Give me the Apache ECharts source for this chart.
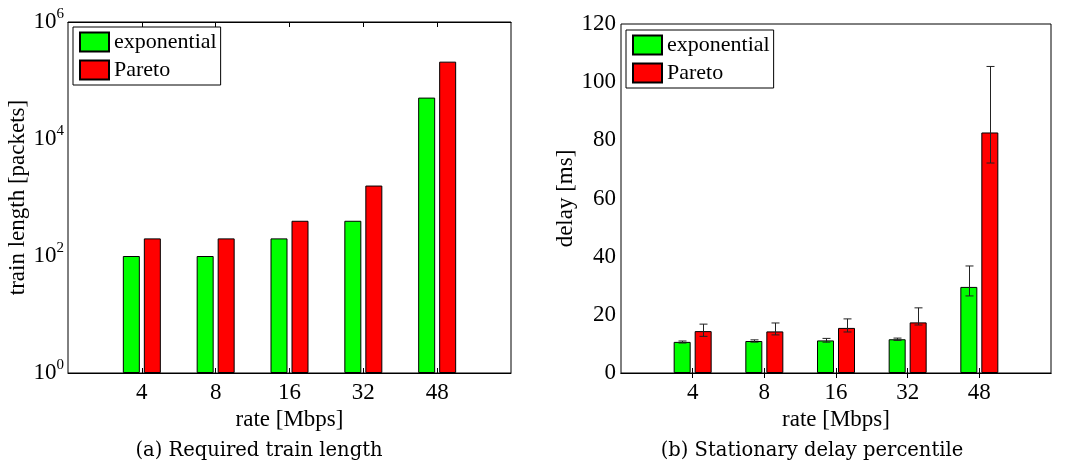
<!DOCTYPE html>
<html>
<head>
<meta charset="utf-8">
<script src="https://cdn.jsdelivr.net/npm/echarts@6/dist/echarts.min.js"></script>
<style>
  html, body { margin: 0; padding: 0; background: #fff; }
  #chart { width: 1071px; height: 465px; }
</style>
</head>
<body>
<div id="chart"></div>
<script>
// rate categories (Mbps)
const rates = ['4', '8', '16', '32', '48']

// (a) required train length [packets]
const expLength = [100, 100, 200, 400, 51000]
const paretoLength = [200, 200, 400, 1600, 210000]

// (b) stationary delay percentile [ms], with error bars
const expDelay = [10.7, 11.0, 11.2, 11.6, 29.6]
const expDelayLow = [10.3, 10.6, 10.6, 11.2, 26.5]
const expDelayHigh = [11.0, 11.4, 11.9, 12.0, 36.8]
const paretoDelay = [14.4, 14.3, 15.5, 17.4, 82.7]
const paretoDelayLow = [12.6, 13.1, 14.1, 16.5, 72.2]
const paretoDelayHigh = [16.8, 17.2, 18.6, 22.4, 105.4]

const delayMax = 120
const delayStep = 20

const FONT = 'Liberation Serif'
const GREEN = '#00ff00'
const RED = '#ff0000'
const BAR_W = 17
const BAR_GAP = 4
const ERR_OFF = (BAR_W + BAR_GAP) / 2

// xlim is [0, 6] with the rates at 1..5
const xCats = ['', ...rates, '']
const pairs = (vals) => vals.map((v, i) => [i + 1, v])
const errPairs = (lo, hi) => lo.map((v, i) => [i + 1, v, hi[i]])

const chart = echarts.init(document.getElementById('chart'))

const axisLine = { lineStyle: { color: '#000', width: 1 } }
const tickOnRates = (i) => i > 0 && i < xCats.length - 1

const xAxisFor = (gridIndex, top) => ({
  gridIndex,
  type: 'category',
  data: xCats,
  boundaryGap: false,
  position: top ? 'top' : 'bottom',
  axisLine,
  axisTick: { inside: true, length: 5, interval: tickOnRates, lineStyle: { color: '#000' } },
  axisLabel: top ? { show: false } : { color: '#000', fontFamily: FONT, fontSize: 23, margin: 8, interval: 0 },
  splitLine: { show: false },
  name: top ? '' : 'rate [Mbps]',
  nameLocation: 'middle',
  nameGap: 34,
  nameTextStyle: { color: '#000', fontFamily: FONT, fontSize: 23 }
})

const errorBars = (xi, yi, lo, hi, off) => ({
  type: 'custom',
  xAxisIndex: xi,
  yAxisIndex: yi,
  z: 5,
  silent: true,
  encode: { x: 0, y: [1, 2] },
  data: errPairs(lo, hi),
  renderItem: (params, api) => {
    const a = api.coord([api.value(0), api.value(1)])
    const b = api.coord([api.value(0), api.value(2)])
    const x = Math.round(a[0] + off) + 0.5
    const style = { stroke: '#222', lineWidth: 1 }
    return {
      type: 'group',
      children: [
        { type: 'line', shape: { x1: x, y1: a[1], x2: x, y2: b[1] }, style },
        { type: 'line', shape: { x1: x - 4, y1: a[1], x2: x + 4, y2: a[1] }, style },
        { type: 'line', shape: { x1: x - 4, y1: b[1], x2: x + 4, y2: b[1] }, style }
      ]
    }
  }
})

const barSeries = (name, xi, yi, vals, color) => ({
  name,
  type: 'bar',
  xAxisIndex: xi,
  yAxisIndex: yi,
  barWidth: BAR_W,
  barGap: (BAR_GAP / BAR_W * 100) + '%',
  itemStyle: { color, borderColor: '#000', borderWidth: 1 },
  data: pairs(vals)
})

const legendFor = (left, top) => ({
  left, top,
  orient: 'vertical',
  data: ['exponential', 'Pareto'],
  icon: 'rect',
  itemWidth: 29,
  itemHeight: 19,
  itemGap: 6,
  itemTextGap: 3,
  padding: [4, 4, 4, 6],
  borderColor: '#000',
  borderWidth: 1,
  backgroundColor: '#fff',
  textStyle: { color: '#000', fontFamily: FONT, fontSize: 22 }
})

const captionStyle = { textAlign: 'center', textVerticalAlign: 'middle', fill: '#000', font: '19.5px "DejaVu Serif"' }

const option = {
  animation: false,
  textStyle: { fontFamily: FONT },
  grid: [
    { left: 68, top: 22, width: 443, height: 351, show: true, borderColor: '#000', borderWidth: 1 },
    { left: 621, top: 24, width: 430, height: 349, show: true, borderColor: '#000', borderWidth: 1 }
  ],
  legend: [legendFor(73, 27), legendFor(626, 30)],
  xAxis: [xAxisFor(0, false), xAxisFor(0, true), xAxisFor(1, false), xAxisFor(1, true)],
  yAxis: [
    {
      gridIndex: 0, type: 'log', logBase: 10, min: 1, max: 1e6, interval: 2, splitNumber: 3,
      axisLine, splitLine: { show: false }, minorTick: { show: false },
      axisTick: { inside: true, length: 5, lineStyle: { color: '#000' } },
      axisLabel: {
        margin: 4,
        formatter: (v) => '{b|10}{e|' + Math.round(Math.log10(v)) + '}',
        rich: {
          b: { color: '#000', fontFamily: FONT, fontSize: 23 },
          e: { color: '#000', fontFamily: FONT, fontSize: 15, padding: [0, 0, 16, 0] }
        }
      },
      name: 'train length [packets]', nameLocation: 'middle', nameGap: 37,
      nameTextStyle: { color: '#000', fontFamily: FONT, fontSize: 23 }
    },
    {
      gridIndex: 0, type: 'log', logBase: 10, min: 1, max: 1e6, interval: 2, splitNumber: 3, position: 'right',
      axisLine, splitLine: { show: false }, minorTick: { show: false },
      axisTick: { inside: true, length: 5, lineStyle: { color: '#000' } },
      axisLabel: { show: false }
    },
    {
      gridIndex: 1, type: 'value', min: 0, max: delayMax, interval: delayStep,
      axisLine, splitLine: { show: false },
      axisTick: { inside: true, length: 5, lineStyle: { color: '#000' } },
      axisLabel: { color: '#000', fontFamily: FONT, fontSize: 23, margin: 5 },
      name: 'delay [ms]', nameLocation: 'middle', nameGap: 42,
      nameTextStyle: { color: '#000', fontFamily: FONT, fontSize: 23 }
    },
    {
      gridIndex: 1, type: 'value', min: 0, max: delayMax, interval: delayStep, position: 'right',
      axisLine, splitLine: { show: false },
      axisTick: { inside: true, length: 5, lineStyle: { color: '#000' } },
      axisLabel: { show: false }
    }
  ],
  graphic: [
    { type: 'text', style: Object.assign({ text: '(a) Required train length', x: 259, y: 451 }, captionStyle) },
    { type: 'text', style: Object.assign({ text: '(b) Stationary delay percentile', x: 812, y: 451 }, captionStyle) }
  ],
  series: [
    barSeries('exponential', 0, 0, expLength, GREEN),
    barSeries('Pareto', 0, 0, paretoLength, RED),
    barSeries('exponential', 2, 2, expDelay, GREEN),
    barSeries('Pareto', 2, 2, paretoDelay, RED),
    errorBars(2, 2, expDelayLow, expDelayHigh, -ERR_OFF),
    errorBars(2, 2, paretoDelayLow, paretoDelayHigh, ERR_OFF)
  ]
}

chart.setOption(option)
</script>
</body>
</html>
